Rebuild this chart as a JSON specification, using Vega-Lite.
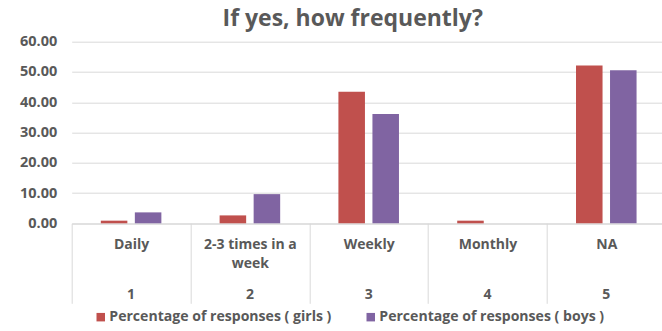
{
  "$schema": "https://vega.github.io/schema/vega-lite/v6.json",
  "autosize": {"type": "none"},
  "padding": {"left": 71.7, "top": 41.7, "right": 0, "bottom": 107.7},
  "width": 594,
  "height": 181.6,
  "background": "white",
  "title": {
    "text": "If yes, how frequently?",
    "font": "Open Sans",
    "fontSize": 23,
    "fontWeight": "bold",
    "color": "#595959",
    "anchor": "middle",
    "dx": -16,
    "offset": 3
  },
  "data": {
    "values": [
      {"idx": "1", "name": "Daily", "group": "Percentage of responses ( girls )", "value": 0.87},
      {"idx": "1", "name": "Daily", "group": "Percentage of responses ( boys )", "value": 3.61},
      {"idx": "2", "name": "2-3 times in a week", "group": "Percentage of responses ( girls )", "value": 2.61},
      {"idx": "2", "name": "2-3 times in a week", "group": "Percentage of responses ( boys )", "value": 9.64},
      {"idx": "3", "name": "Weekly", "group": "Percentage of responses ( girls )", "value": 43.48},
      {"idx": "3", "name": "Weekly", "group": "Percentage of responses ( boys )", "value": 36.14},
      {"idx": "4", "name": "Monthly", "group": "Percentage of responses ( girls )", "value": 0.87},
      {"idx": "4", "name": "Monthly", "group": "Percentage of responses ( boys )", "value": 0},
      {"idx": "5", "name": "NA", "group": "Percentage of responses ( girls )", "value": 52.17},
      {"idx": "5", "name": "NA", "group": "Percentage of responses ( boys )", "value": 50.6}
    ]
  },
  "encoding": {
    "y": {
      "field": "value",
      "type": "quantitative",
      "stack": null,
      "scale": {"domain": [0, 60], "nice": false},
      "axis": {
        "title": null,
        "values": [0, 10, 20, 30, 40, 50, 60],
        "format": ".2f",
        "domain": false,
        "ticks": false,
        "labelPadding": 15,
        "labelFont": "Open Sans",
        "labelFontSize": 14.5,
        "labelFontWeight": "bold",
        "labelColor": "#595959",
        "gridColor": "#d9d9d9",
        "gridWidth": 1
      }
    }
  },
  "layer": [
    {
      "mark": {"type": "bar"},
      "encoding": {
        "x": {
          "field": "idx",
          "type": "nominal",
          "sort": ["1", "2", "3", "4", "5"],
          "scale": {"paddingInner": 0, "paddingOuter": 0},
          "axis": {
            "orient": "bottom",
            "title": null,
            "labelAngle": 0,
            "tickBand": "extent",
            "tickSize": 80,
            "tickColor": "#d9d9d9",
            "domainColor": "#d9d9d9",
            "labelPadding": -66,
            "labelBaseline": "top",
            "labelFont": "Open Sans",
            "labelFontSize": 14,
            "labelFontWeight": "bold",
            "labelColor": "#595959",
            "labelLineHeight": 19,
            "labelExpr": "datum.value == '1' ? 'Daily' : datum.value == '2' ? ['2-3 times in a','week'] : datum.value == '3' ? 'Weekly' : datum.value == '4' ? 'Monthly' : datum.value == '5' ? 'NA' : ''"
          }
        },
        "xOffset": {
          "field": "group",
          "type": "nominal",
          "sort": ["Percentage of responses ( girls )", "Percentage of responses ( boys )"],
          "scale": {"paddingInner": 0.22, "paddingOuter": 0.856}
        },
        "color": {
          "field": "group",
          "type": "nominal",
          "sort": ["Percentage of responses ( girls )", "Percentage of responses ( boys )"],
          "scale": {"range": ["#C0504D", "#8064A2"]},
          "legend": {
            "title": null,
            "orient": "none",
            "direction": "horizontal",
            "legendX": 22,
            "legendY": 268,
            "symbolType": "square",
            "symbolSize": 72,
            "symbolStrokeWidth": 0,
            "symbolOpacity": 1,
            "labelFont": "Open Sans",
            "labelFontSize": 14.1,
            "labelFontWeight": "bold",
            "labelColor": "#595959",
            "labelOffset": 1.5,
            "columnPadding": 32,
            "labelLimit": 400
          }
        }
      }
    },
    {
      "mark": {"type": "bar", "opacity": 0},
      "encoding": {
        "x": {
          "field": "idx",
          "type": "nominal",
          "sort": ["1", "2", "3", "4", "5"],
          "axis": {
            "orient": "bottom",
            "title": null,
            "labelAngle": 0,
            "domain": false,
            "ticks": false,
            "grid": false,
            "labelPadding": 64,
            "labelBaseline": "top",
            "labelFont": "Open Sans",
            "labelFontSize": 14,
            "labelFontWeight": "bold",
            "labelColor": "#595959"
          }
        }
      }
    }
  ],
  "resolve": {"axis": {"x": "independent"}},
  "config": {
    "view": {"stroke": null}
  }
}
